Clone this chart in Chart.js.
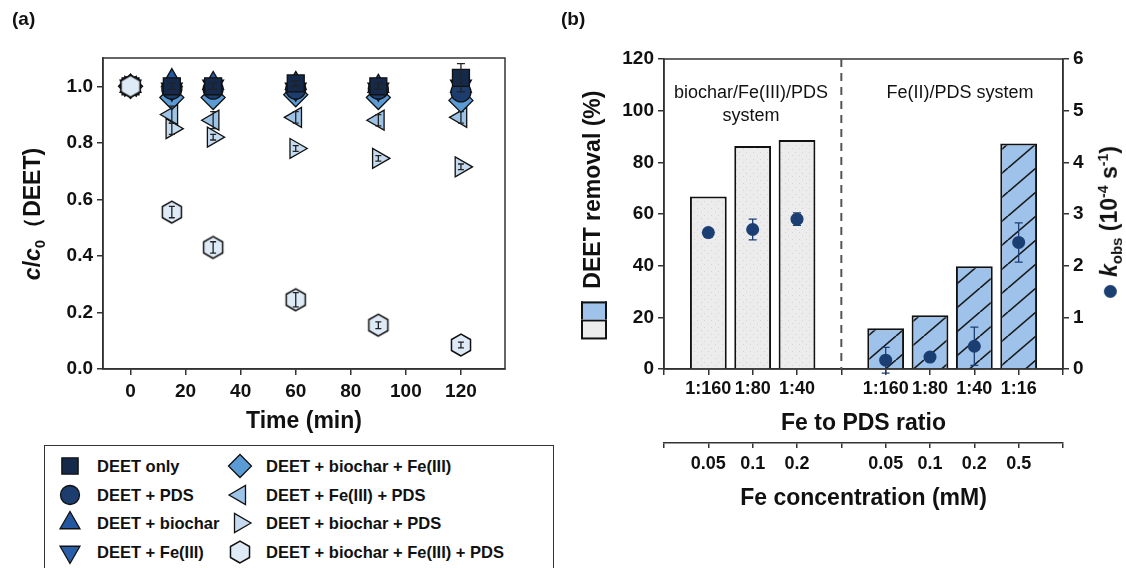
<!DOCTYPE html>
<html>
<head>
<meta charset="utf-8">
<script src="https://cdn.jsdelivr.net/npm/chart.js@4.4.1/dist/chart.umd.min.js"></script>
<style>
  body { margin:0; width:1126px; height:568px; overflow:hidden; background:#fff; position:relative;
         font-family: Arial, "Liberation Sans", sans-serif; color:#111; }
  canvas { position:absolute; }
  .txt { position:absolute; white-space:nowrap; line-height:1; }
  .panel { font-size:19px; font-weight:bold; }
  .rot { transform: translate(-50%, -50%) rotate(-90deg); font-size:23px; font-weight:bold; }
  .note { font-size:18px; text-align:center; line-height:23px; transform: translate(-50%, -50%); }
  .ic { display:inline-block; width:16px; height:22px; border:2px solid #111; vertical-align:middle; }
  .dot { display:inline-block; width:13px; height:13px; border-radius:50%; background:#1b3f73; vertical-align:middle; margin-right:8px; }
  #legendBox { position:absolute; left:44px; top:445px; width:508px; height:140px; border:1.5px solid #333; }
  .lg { position:absolute; font-size:16.5px; font-weight:bold; transform: translateY(-50%); white-space:nowrap; }
</style>
</head>
<body>
<canvas id="chartA" width="540" height="440" style="left:0;top:0"></canvas>
<canvas id="chartB" width="566" height="568" style="left:560px;top:0"></canvas>

<div class="txt panel" style="left:12px;top:9px">(a)</div>
<div class="txt panel" style="left:561px;top:9px">(b)</div>

<div class="txt rot" style="left:34px;top:214px"><i>c</i>/<i>c</i><sub style="font-size:15px">0</sub>（DEET)</div>
<div class="txt rot" style="left:594px;top:215px"><span class="ic" style="background:#ececec"></span><span class="ic" style="background:#9ec2ea;border-left:none"></span>&nbsp; DEET removal (%)</div>
<div class="txt rot" style="left:1110px;top:222px"><span class="dot"></span><i>k</i><sub style="font-size:15px">obs</sub> (10<sup style="font-size:14px">-4</sup> s<sup style="font-size:14px">-1</sup>)</div>

<div class="txt note" style="left:751px;top:104px">biochar/Fe(III)/PDS<br>system</div>
<div class="txt note" style="left:960px;top:92px">Fe(II)/PDS system</div>

<div id="legendBox"></div>

<script>
// ---- (a) DEET degradation kinetics ----
const times = [0, 15, 30, 60, 90, 120];
const seriesNames = [
  'DEET only', 'DEET + PDS', 'DEET + biochar', 'DEET + Fe(III)',
  'DEET + biochar + Fe(III)', 'DEET + Fe(III) + PDS', 'DEET + biochar + PDS', 'DEET + biochar + Fe(III) + PDS'
];
const deetOnly       = [1.00, 1.00, 1.00, 1.01, 1.00, 1.03];
const deetPds        = [1.00, 0.99, 0.99, 0.99, 0.99, 0.98];
const deetBiochar    = [1.00, 1.02, 1.01, 1.01, 1.00, 1.00];
const deetFe         = [1.00, 0.99, 1.00, 0.99, 0.99, 1.00];
const deetBiocharFe  = [1.00, 0.96, 0.96, 0.97, 0.96, 0.95];
const deetFePds      = [1.00, 0.90, 0.88, 0.89, 0.88, 0.89];
const deetBiocharPds = [1.00, 0.85, 0.82, 0.78, 0.745, 0.715];
const deetAll        = [1.00, 0.555, 0.43, 0.245, 0.155, 0.085];
const errOnly   = [0, 0.01, 0.01, 0.01, 0.01, 0.05];
const errFePds  = [0, 0.03, 0.03, 0.02, 0.02, 0.02];
const errBcPds  = [0, 0.02, 0.01, 0.01, 0.01, 0.01];
const errAll    = [0, 0.02, 0.02, 0.025, 0.012, 0.01];
const timeTicks = [0, 20, 40, 60, 80, 100, 120];

// ---- (b) removal and k_obs ----
const ratioLabels = ['', '1:160', '1:80', '1:40', '', '1:160', '1:80', '1:40', '1:16', ''];
const concLabels  = ['', '0.05', '0.1', '0.2', '', '0.05', '0.1', '0.2', '0.5', ''];
const removal     = [null, 66.8, 86.3, 88.6, null, 15.8, 20.8, 39.8, 87.3, null];
const kobs        = [null, 2.64, 2.70, 2.90, null, 0.17, 0.23, 0.44, 2.45, null];
const kobsErr     = [0, 0.05, 0.2, 0.12, 0, 0.25, 0.08, 0.37, 0.38, 0];
const dividerIndex = 4;

Chart.defaults.font.family = 'Arial, "Liberation Sans", sans-serif';
Chart.defaults.color = '#111';

const tickFont = { size: 19, weight: 'bold' };
const catFont = { size: 18, weight: 'bold' };
const titleFont = { size: 23, weight: 'bold' };

function hexagonMarker(r, fill) {
  const s = Math.ceil(r * 2 + 4);
  const c = document.createElement('canvas');
  c.width = s; c.height = s;
  const g = c.getContext('2d');
  g.beginPath();
  for (let k = 0; k < 6; k++) {
    const a = Math.PI / 2 + k * Math.PI / 3;
    const px = s / 2 + r * Math.cos(a), py = s / 2 + r * Math.sin(a);
    k ? g.lineTo(px, py) : g.moveTo(px, py);
  }
  g.closePath();
  g.fillStyle = fill; g.fill();
  g.strokeStyle = '#111'; g.lineWidth = 1.5; g.stroke();
  return c;
}

function dotsPattern() {
  const c = document.createElement('canvas');
  c.width = 7; c.height = 7;
  const g = c.getContext('2d');
  g.fillStyle = '#ececec'; g.fillRect(0, 0, 7, 7);
  g.fillStyle = '#d4d4d4'; g.fillRect(1, 1, 1, 1); g.fillRect(4, 5, 1, 1);
  return g.createPattern(c, 'repeat');
}

function hatchPattern() {
  const w = 28, h = 24;
  const c = document.createElement('canvas');
  c.width = w; c.height = h;
  const g = c.getContext('2d');
  g.fillStyle = '#9ec2ea'; g.fillRect(0, 0, w, h);
  g.strokeStyle = '#1a1a1a'; g.lineWidth = 1.6;
  g.beginPath();
  [-w, 0, w].forEach(dx => { g.moveTo(dx, h); g.lineTo(dx + w, 0); });
  g.stroke();
  return g.createPattern(c, 'repeat');
}

// box round the plot area
const frame = {
  id: 'frame',
  beforeDatasetsDraw(chart) {
    const { ctx, chartArea: a } = chart;
    ctx.save();
    ctx.strokeStyle = '#333'; ctx.lineWidth = 1.5;
    ctx.strokeRect(a.left, a.top, a.right - a.left, a.bottom - a.top);
    ctx.restore();
  }
};

// vertical error bars from ds.errors
const errorBars = {
  id: 'errorBars',
  afterDatasetsDraw(chart) {
    const ctx = chart.ctx;
    chart.data.datasets.forEach((ds, i) => {
      if (!ds.errors) return;
      const meta = chart.getDatasetMeta(i);
      const scale = chart.scales[meta.yAxisID];
      ctx.save();
      ctx.strokeStyle = ds.errorColor || '#222';
      ctx.lineWidth = 1.3;
      meta.data.forEach((pt, j) => {
        const raw = ds.data[j];
        const v = raw && typeof raw === 'object' ? raw.y : raw;
        const e = ds.errors[j];
        if (v == null || !e) return;
        const y1 = scale.getPixelForValue(v + e), y2 = scale.getPixelForValue(v - e);
        const c = ds.capWidth || 3;
        ctx.beginPath();
        ctx.moveTo(pt.x, y1); ctx.lineTo(pt.x, y2);
        ctx.moveTo(pt.x - c, y1); ctx.lineTo(pt.x + c, y1);
        ctx.moveTo(pt.x - c, y2); ctx.lineTo(pt.x + c, y2);
        ctx.stroke();
      });
      ctx.restore();
    });
  }
};

// dashed separator between the two systems
const divider = {
  id: 'divider',
  beforeDatasetsDraw(chart) {
    const { ctx, chartArea: a } = chart;
    const x = chart.scales.x.getPixelForValue(dividerIndex);
    ctx.save();
    ctx.strokeStyle = '#555'; ctx.lineWidth = 2; ctx.setLineDash([8, 6]);
    ctx.beginPath(); ctx.moveTo(x, a.top); ctx.lineTo(x, a.bottom); ctx.stroke();
    ctx.restore();
  }
};

const pts = vals => times.map((t, i) => ({ x: t, y: vals[i] }));
const axisGrid = { display: true, drawOnChartArea: false, drawTicks: true, tickLength: 6, color: '#333', lineWidth: 1.5 };
const axisBorder = { color: '#333', width: 1.5 };

function series(idx, vals, style, color, radius, extra) {
  return Object.assign({
    label: seriesNames[idx], data: pts(vals), showLine: false,
    pointStyle: style, pointRadius: radius, pointBackgroundColor: color, backgroundColor: color,
    pointBorderColor: '#111', borderColor: '#111', pointBorderWidth: 1.3, order: 1
  }, extra || {});
}

const hexImg = hexagonMarker(11, '#deebf7');

const chartA = new Chart(document.getElementById('chartA'), {
  type: 'scatter',
  data: {
    datasets: [
      series(0, deetOnly, 'rect', '#15294a', 12, { errors: errOnly, capWidth: 4 }),
      series(1, deetPds, 'circle', '#1c3d6e', 10),
      series(2, deetBiochar, 'triangle', '#2556a0', 12),
      series(3, deetFe, 'triangle', '#2a5ea8', 12, { pointRotation: 180, rotation: 180 }),
      series(4, deetBiocharFe, 'rectRot', '#5b9bd5', 12),
      series(5, deetFePds, 'triangle', '#9dc3e6', 11.5, { pointRotation: -90, rotation: -90, errors: errFePds }),
      series(6, deetBiocharPds, 'triangle', '#c6dbf0', 11.5, { pointRotation: 90, rotation: 90, errors: errBcPds }),
      series(7, deetAll, hexImg, '#deebf7', 11, { order: -1, errors: errAll })
    ]
  },
  options: {
    responsive: false, animation: false,
    layout: { padding: { top: 58, right: 35, left: 0, bottom: 0 } },
    plugins: { legend: { display: false }, tooltip: { enabled: false } },
    scales: {
      x: {
        type: 'linear', min: -10, max: 136,
        afterFit: s => { s.height = 71; },
        afterBuildTicks: s => { s.ticks = timeTicks.map(v => ({ value: v })); },
        ticks: { font: tickFont, color: '#111', padding: 5, maxRotation: 0 },
        grid: axisGrid, border: axisBorder,
        title: { display: true, text: 'Time (min)', font: titleFont, color: '#111', padding: { top: 0, bottom: 5 } }
      },
      y: {
        min: 0, max: 1.1,
        afterFit: s => { s.width = 103; },
        ticks: { stepSize: 0.2, includeBounds: false, font: tickFont, color: '#111', padding: 4, callback: v => v.toFixed(1) },
        grid: axisGrid, border: axisBorder
      }
    }
  },
  plugins: [frame, errorBars]
});

// HTML legend in two columns, markers drawn with Chart.js helpers
(function buildLegend() {
  const rowsY = [466, 494.5, 523, 551.5];
  chartA.data.datasets.forEach((ds, i) => {
    const col = Math.floor(i / 4), row = i % 4;
    const mx = col ? 240 : 70, tx = col ? 266 : 97, y = rowsY[row];
    const c = document.createElement('canvas');
    c.width = 28; c.height = 28;
    c.style.left = (mx - 14) + 'px'; c.style.top = (y - 14) + 'px';
    document.body.appendChild(c);
    const g = c.getContext('2d');
    g.fillStyle = ds.pointBackgroundColor; g.strokeStyle = '#111'; g.lineWidth = 1.3;
    Chart.helpers.drawPoint(g, {
      pointStyle: ds.pointStyle, rotation: ds.pointRotation || 0,
      radius: ds.pointStyle === 'rect' ? 11.5 : ds.pointRadius - 0.5, borderWidth: 1.3
    }, 14, 14);
    const t = document.createElement('div');
    t.className = 'lg';
    t.style.left = tx + 'px'; t.style.top = y + 'px';
    t.textContent = ds.label;
    document.body.appendChild(t);
  });
})();

const chartB = new Chart(document.getElementById('chartB'), {
  type: 'bar',
  data: {
    labels: ratioLabels,
    datasets: [
      {
        type: 'line', label: 'k_obs', data: kobs, yAxisID: 'y1', showLine: false,
        pointRadius: 6.5, pointBackgroundColor: '#1b3f73', pointBorderColor: '#1b3f73', pointBorderWidth: 0,
        errors: kobsErr, errorColor: '#1b3f73', capWidth: 4, order: 0
      },
      {
        label: 'DEET removal', data: removal, yAxisID: 'y',
        backgroundColor: ratioLabels.map((_, i) => i < dividerIndex ? dotsPattern() : hatchPattern()),
        borderColor: '#111', borderWidth: 2, borderSkipped: 'bottom',
        barPercentage: 0.83, categoryPercentage: 1, order: 1
      }
    ]
  },
  options: {
    responsive: false, animation: false,
    layout: { padding: { top: 59, right: 0, left: 0, bottom: 0 } },
    plugins: { legend: { display: false }, tooltip: { enabled: false } },
    scales: {
      x: {
        type: 'category', offset: false,
        afterFit: s => { s.height = 74; },
        ticks: { font: catFont, color: '#111', padding: 3, autoSkip: false, maxRotation: 0 },
        grid: Object.assign({}, axisGrid, { offset: false }), border: axisBorder,
        title: { display: true, text: 'Fe to PDS ratio', font: titleFont, color: '#111', padding: { top: 0, bottom: 6 } }
      },
      x2: {
        type: 'category', position: 'bottom', labels: concLabels, offset: false,
        afterFit: s => { s.height = 125; },
        ticks: { font: catFont, color: '#111', padding: 5, autoSkip: false, maxRotation: 0 },
        grid: Object.assign({}, axisGrid, { offset: false, tickLength: 5 }), border: axisBorder,
        title: { display: true, text: 'Fe concentration (mM)', font: titleFont, color: '#111', padding: { top: 0, bottom: 56 } }
      },
      y: {
        position: 'left', min: 0, max: 120,
        afterFit: s => { s.width = 104; },
        ticks: { stepSize: 20, font: tickFont, color: '#111', padding: 4 },
        grid: axisGrid, border: axisBorder
      },
      y1: {
        position: 'right', min: 0, max: 6,
        afterFit: s => { s.width = 63; },
        ticks: { stepSize: 1, font: tickFont, color: '#111', padding: 4 },
        grid: axisGrid, border: axisBorder
      }
    }
  },
  plugins: [frame, divider, errorBars]
});
</script>
</body>
</html>
